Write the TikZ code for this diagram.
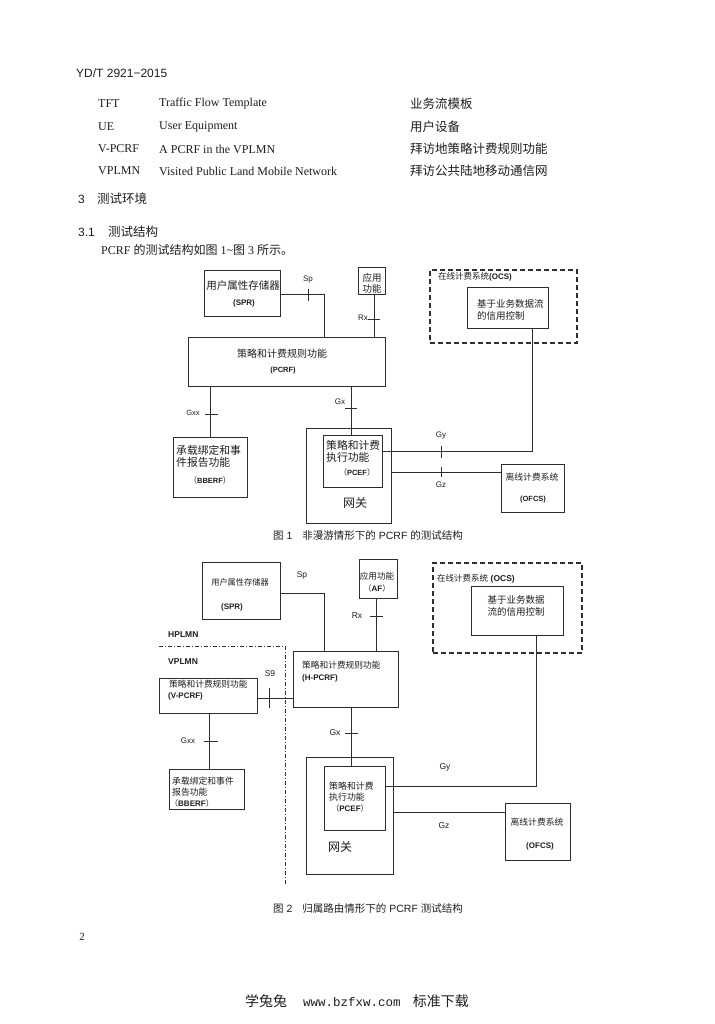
\documentclass[tikz,border=0pt]{standalone}
\usepackage{fontspec}
\setmainfont{Liberation Serif}
\newfontfamily\cjk{Noto Sans CJK SC}
\newfontfamily\arial{Liberation Sans}
\newfontfamily\monofnt{Liberation Mono}
\usetikzlibrary{fit}
\newcommand\zhF[1]{\cjk\fontsize{#1}{#1}\selectfont}
\newcommand\enF[1]{\arial\fontsize{#1}{#1}\selectfont}
\newcommand\enB[1]{\arial\bfseries\fontsize{#1}{#1}\selectfont}
\newcommand\rmF[1]{\rmfamily\fontsize{#1}{#1}\selectfont}
\definecolor{ink}{HTML}{1E1E1E}
\definecolor{linec}{HTML}{2E2E2E}
\begin{document}
\begin{tikzpicture}[x=1pt,y=-1pt,
  box/.style={draw=linec, line width=0.9pt, inner sep=0pt, rectangle},
  ocsbox/.style={draw=linec, line width=1.3pt, dash pattern=on 5pt off 3pt, inner sep=0pt, rectangle},
  conn/.style={draw=linec, line width=0.8pt},
  tickm/.style={draw=linec, line width=0.7pt},
  bound/.style={draw=linec, line width=1pt, dash pattern=on 4pt off 2pt on 1pt off 2pt},
  tx/.style={inner sep=0pt, text=ink},
  txw/.style={tx, anchor=west}]
\path[use as bounding box, fill=white] (0,0) rectangle (714,1024);

% ---------- header and text ----------
\node[txw, font=\enF{12}] (hdr) at (76,73) {YD/T 2921−2015};
\node[txw, font=\rmF{12}] (a1) at (98,104) {TFT};
\node[txw, font=\rmF{12}] (b1) at (159,104) {Traffic Flow Template};
\node[txw, font=\zhF{12.5}] (c1) at (410,104) {业务流模板};
\node[txw, font=\rmF{12}] (a2) at (98,127) {UE};
\node[txw, font=\rmF{12}] (b2) at (159,127) {User Equipment};
\node[txw, font=\zhF{12.5}] (c2) at (410,127) {用户设备};
\node[txw, font=\rmF{12}] (a3) at (98,149) {V-PCRF};
\node[txw, font=\rmF{12}] (b3) at (159,149) {A PCRF in the VPLMN};
\node[txw, font=\zhF{12.5}] (c3) at (410,149) {拜访地策略计费规则功能};
\node[txw, font=\rmF{12}] (a4) at (98,171) {VPLMN};
\node[txw, font=\rmF{12}] (b4) at (159,171) {Visited Public Land Mobile Network};
\node[txw, font=\zhF{12.5}] (c4) at (410,171) {拜访公共陆地移动通信网};
\node[txw, font=\enF{12}] (s3) at (78,199) {3};
\node[txw, font=\zhF{12.5}] (s3t) at (97,199) {测试环境};
\node[txw, font=\enF{12}] (s31) at (78,232) {3.1};
\node[txw, font=\zhF{12.5}] (s31t) at (108,232) {测试结构};
\node[txw] (intro) at (101,250) {\rmF{12}PCRF {\zhF{12}的测试结构如图} 1\textasciitilde{\zhF{12}图} 3 {\zhF{12}所示。}};

% ---------- Figure 1 ----------
\node[box, fit={(204,270) (280,316)}] (spr1) {};
\node[box, fit={(358,267) (385,294)}] (af1) {};
\node[box, fit={(188,337) (385,386)}] (pcrf1) {};
\node[ocsbox, fit={(430,270) (577,343)}] (ocs1) {};
\node[box, fit={(467,287) (548,328)}] (cr1) {};
\node[box, fit={(173,437) (247,497)}] (bb1) {};
\node[box, fit={(306,428) (391,523)}] (gw1) {};
\node[box, fit={(323,435) (382,487)}] (pcef1) {};
\node[box, fit={(501,464) (564,512)}] (of1) {};

\node[tx, font=\zhF{10.5}] (spr1a) at (243,286) {用户属性存储器};
\node[tx, font=\enB{8}] (spr1b) at (244,303) {(SPR)};
\node[tx, font=\zhF{9.5}] (af1a) at (372,278) {应用};
\node[tx, font=\zhF{9.5}] (af1b) at (372,289) {功能};
\node[tx, font=\enF{8}] (lsp1) at (308,280) {Sp};
\node[tx, font=\enF{8}] (lrx1) at (363,318) {Rx};
\node[tx, font=\zhF{10}] (pc1a) at (282,354) {策略和计费规则功能};
\node[tx, font=\enB{7.5}] (pc1b) at (283,371) {(PCRF)};
\node[txw] (ocs1l) at (438,277) {{\zhF{8.5}在线计费系统}{\enB{8}(OCS)}};
\node[txw, font=\zhF{9.5}] (cr1a) at (477,304) {基于业务数据流};
\node[txw, font=\zhF{9.5}] (cr1b) at (477,316) {的信用控制};
\node[tx, font=\enF{7.5}] (lgxx1) at (193,413) {Gxx};
\node[txw, font=\zhF{10.8}] (bb1a) at (176,450) {承载绑定和事};
\node[txw, font=\zhF{10.8}] (bb1b) at (176,462) {件报告功能};
\node[tx] (bb1c) at (210,480) {{\zhF{8}（}{\enB{7.5}BBERF}{\zhF{8}）}};
\node[tx, font=\enF{8}] (lgx1) at (340,402) {Gx};
\node[txw, font=\zhF{10.8}] (pe1a) at (326,445) {策略和计费};
\node[txw, font=\zhF{10.8}] (pe1b) at (326,457) {执行功能};
\node[tx] (pe1c) at (357,472) {{\zhF{8}（}{\enB{7.5}PCEF}{\zhF{8}）}};
\node[tx, font=\zhF{12}] (gw1a) at (355,503) {网关};
\node[tx, font=\enF{8}] (lgy1) at (441,436) {Gy};
\node[tx, font=\enF{8}] (lgz1) at (441,485) {Gz};
\node[tx, font=\zhF{8.8}] (of1a) at (532,477) {离线计费系统};
\node[tx, font=\enB{7.5}] (of1b) at (533,500) {(OFCS)};
\node[txw] (cap1) at (273,536) {{\zhF{10.5}图}\enF{10.5} 1\hspace{10pt}{\zhF{10.5}非漫游情形下的} PCRF {\zhF{10.5}的测试结构}};

% connectors fig 1
\coordinate (b_sp1) at (324,294);
\coordinate (t_sp1) at (308,295);
\draw[conn] (spr1.east |- b_sp1) -- (b_sp1) -- (b_sp1 |- pcrf1.north);
\draw[tickm] ([yshift=-6pt]t_sp1) -- ([yshift=6pt]t_sp1);
\coordinate (t_rx1) at (374,319);
\draw[conn] (af1.south -| t_rx1) -- (t_rx1 |- pcrf1.north);
\draw[tickm] ([xshift=-6pt]t_rx1) -- ([xshift=6pt]t_rx1);
\coordinate (t_gxx1) at (210,414);
\draw[conn] (t_gxx1 |- pcrf1.south) -- (t_gxx1 |- bb1.north);
\draw[tickm] ([xshift=-5pt]t_gxx1) -- ([xshift=8pt]t_gxx1);
\coordinate (t_gx1) at (351,408);
\draw[conn] (t_gx1 |- pcrf1.south) -- (t_gx1 |- pcef1.north);
\draw[tickm] ([xshift=-6pt]t_gx1) -- ([xshift=6pt]t_gx1);
\coordinate (b_gy1) at (532,451);
\coordinate (t_gy1) at (441,452);
\draw[conn] (pcef1.east |- b_gy1) -- (b_gy1) -- (b_gy1 |- cr1.south);
\draw[tickm] ([yshift=-6pt]t_gy1) -- ([yshift=6pt]t_gy1);
\coordinate (t_gz1) at (441,472);
\draw[conn] (gw1.east |- t_gz1) -- (t_gz1 -| of1.west);
\draw[tickm] ([yshift=-5pt]t_gz1) -- ([yshift=5pt]t_gz1);

% ---------- Figure 2 ----------
\node[box, fit={(202,562) (280,619)}] (spr2) {};
\node[box, fit={(359,559) (397,598)}] (af2) {};
\node[box, fit={(293,651) (398,707)}] (hp) {};
\node[ocsbox, fit={(433,563) (582,653)}] (ocs2) {};
\node[box, fit={(471,586) (563,635)}] (cr2) {};
\node[box, fit={(159,678) (257,713)}] (vp) {};
\node[box, fit={(169,769) (244,809)}] (bb2) {};
\node[box, fit={(306,757) (393,874)}] (gw2) {};
\node[box, fit={(324,766) (385,830)}] (pcef2) {};
\node[box, fit={(505,803) (570,860)}] (of2) {};

\node[tx, font=\zhF{8.2}] (spr2a) at (240,582) {用户属性存储器};
\node[tx, font=\enB{8}] (spr2b) at (232,607) {(SPR)};
\node[tx, font=\enF{8.5}] (lsp2) at (302,575) {Sp};
\node[tx, font=\zhF{8.6}] (af2a) at (377,576) {应用功能};
\node[tx] (af2b) at (377,588) {{\zhF{8}（}{\enB{8}AF}{\zhF{8}）}};
\node[tx, font=\enF{8.5}] (lrx2) at (357,616) {Rx};
\node[txw, font=\zhF{8.7}] (hpa) at (302,665) {策略和计费规则功能};
\node[txw, font=\enB{8}] (hpb) at (302,678) {(H-PCRF)};
\node[txw] (ocs2l) at (437,579) {{\zhF{8.5}在线计费系统} {\enB{8.5}(OCS)}};
\node[tx, font=\zhF{9.5}] (cr2a) at (516,600) {基于业务数据};
\node[tx, font=\zhF{9.5}] (cr2b) at (516,612) {流的信用控制};
\node[txw, font=\enB{8.5}] (hpl) at (168,635) {HPLMN};
\node[txw, font=\enB{8.5}] (vpl) at (168,662) {VPLMN};
\node[txw, font=\zhF{8.7}] (vpa) at (169,684) {策略和计费规则功能};
\node[txw, font=\enB{8}] (vpb) at (168,696) {(V-PCRF)};
\node[tx, font=\enF{8.5}] (ls9) at (270,674) {S9};
\node[tx, font=\enF{8}] (lgxx2) at (188,741) {Gxx};
\node[txw, font=\zhF{8.8}] (bb2a) at (172,781) {承载绑定和事件};
\node[txw, font=\zhF{8.8}] (bb2b) at (172,792) {报告功能};
\node[txw] (bb2c) at (170,803) {{\zhF{8}（}{\enB{8}BBERF}{\zhF{8}）}};
\node[tx, font=\enF{8.5}] (lgx2) at (335,733) {Gx};
\node[txw, font=\zhF{8.9}] (pe2a) at (329,786) {策略和计费};
\node[txw, font=\zhF{8.9}] (pe2b) at (329,797) {执行功能};
\node[tx] (pe2c) at (350,808) {{\zhF{8}（}{\enB{8}PCEF}{\zhF{8}）}};
\node[txw, font=\zhF{12}] (gw2a) at (328,847) {网关};
\node[tx, font=\enF{8.5}] (lgy2) at (445,767) {Gy};
\node[tx, font=\enF{8.5}] (lgz2) at (444,826) {Gz};
\node[tx, font=\zhF{8.8}] (of2a) at (537,822) {离线计费系统};
\node[tx, font=\enB{8}] (of2b) at (540,846) {(OFCS)};
\node[txw] (cap2) at (273,909) {{\zhF{10.5}图}\enF{10.5} 2\hspace{10pt}{\zhF{10.5}归属路由情形下的} PCRF {\zhF{10.5}测试结构}};

% connectors fig 2
\coordinate (b_sp2) at (324,593);
\draw[conn] (spr2.east |- b_sp2) -- (b_sp2) -- (b_sp2 |- hp.north);
\coordinate (t_rx2) at (376,616);
\draw[conn] (af2.south -| t_rx2) -- (t_rx2 |- hp.north);
\draw[tickm] ([xshift=-6pt]t_rx2) -- ([xshift=7pt]t_rx2);
\coordinate (t_s9) at (269,698);
\draw[conn] (vp.east |- t_s9) -- (t_s9 -| hp.west);
\draw[tickm] ([yshift=-10pt]t_s9) -- ([yshift=10pt]t_s9);
\coordinate (t_gxx2) at (209,741);
\draw[conn] (t_gxx2 |- vp.south) -- (t_gxx2 |- bb2.north);
\draw[tickm] ([xshift=-5pt]t_gxx2) -- ([xshift=9pt]t_gxx2);
\coordinate (t_gx2) at (351,733);
\draw[conn] (t_gx2 |- hp.south) -- (t_gx2 |- pcef2.north);
\draw[tickm] ([xshift=-6pt]t_gx2) -- ([xshift=7pt]t_gx2);
\coordinate (b_gy2) at (536,786);
\draw[conn] (pcef2.east |- b_gy2) -- (b_gy2) -- (b_gy2 |- cr2.south);
\coordinate (c_gz2) at (450,812);
\draw[conn] (gw2.east |- c_gz2) -- (c_gz2 -| of2.west);
\coordinate (bd_l) at (159,646);
\coordinate (bd_c) at (285,646);
\coordinate (bd_e) at (285,884);
\draw[bound] (bd_l) -- (bd_c) -- (bd_e);

% ---------- footer ----------
\node[tx, font=\rmF{11}] (pgno) at (82,937) {2};
\node[tx] (foot) at (357,1001) {{\zhF{14}学兔兔}\hspace{16pt}{\monofnt\fontsize{12.5}{12.5}\selectfont www.bzfxw.com}\hspace{12pt}{\zhF{14}标准下载}};
\end{tikzpicture}
\end{document}
